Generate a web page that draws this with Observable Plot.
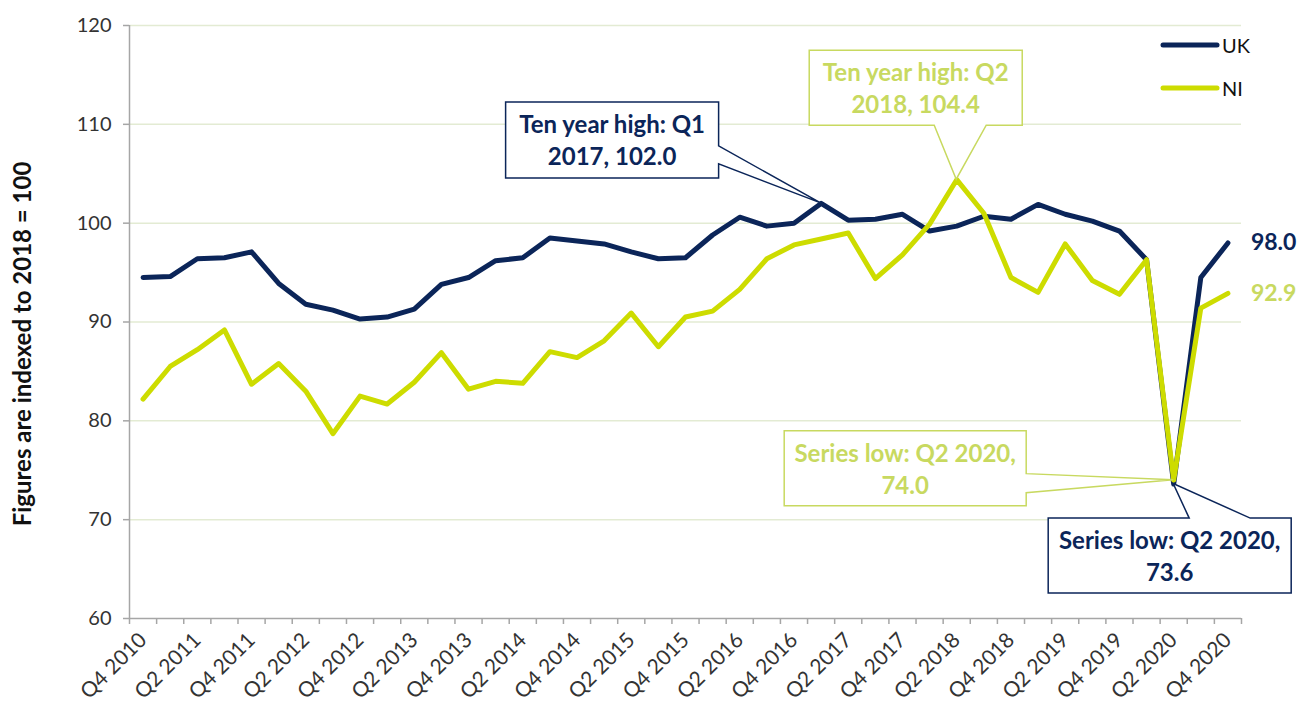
<!DOCTYPE html>
<html>
<head>
<meta charset="utf-8">
<script src="https://cdn.jsdelivr.net/npm/d3@7"></script>
<script src="https://cdn.jsdelivr.net/npm/@observablehq/plot@0.6"></script>
<style>
  html, body { margin: 0; padding: 0; background: #fff; }
  #chart { position: relative; width: 1298px; height: 709px; }
  #chart svg { font-family: Lato, "Open Sans", sans-serif; }
</style>
</head>
<body>
<div id="chart"></div>
<script>
// ---------------- data ----------------
const quarters = [
  "Q4 2010",
  "Q1 2011", "Q2 2011", "Q3 2011", "Q4 2011",
  "Q1 2012", "Q2 2012", "Q3 2012", "Q4 2012",
  "Q1 2013", "Q2 2013", "Q3 2013", "Q4 2013",
  "Q1 2014", "Q2 2014", "Q3 2014", "Q4 2014",
  "Q1 2015", "Q2 2015", "Q3 2015", "Q4 2015",
  "Q1 2016", "Q2 2016", "Q3 2016", "Q4 2016",
  "Q1 2017", "Q2 2017", "Q3 2017", "Q4 2017",
  "Q1 2018", "Q2 2018", "Q3 2018", "Q4 2018",
  "Q1 2019", "Q2 2019", "Q3 2019", "Q4 2019",
  "Q1 2020", "Q2 2020", "Q3 2020", "Q4 2020"
];
const ukValues = [
  94.5, 94.6, 96.4, 96.5, 97.1, 93.9, 91.8, 91.2, 90.3, 90.5,
  91.3, 93.8, 94.5, 96.2, 96.5, 98.5, 98.2, 97.9, 97.1, 96.4,
  96.5, 98.8, 100.6, 99.7, 100.0, 102.0, 100.3, 100.4, 100.9, 99.2,
  99.7, 100.7, 100.4, 101.9, 100.9, 100.2, 99.2, 96.3, 73.6, 94.5,
  98.0
];
const niValues = [
  82.2, 85.5, 87.2, 89.2, 83.7, 85.8, 83.0, 78.7, 82.5, 81.7,
  83.9, 86.9, 83.2, 84.0, 83.8, 87.0, 86.4, 88.1, 90.9, 87.5,
  90.5, 91.1, 93.3, 96.4, 97.8, 98.4, 99.0, 94.4, 96.8, 99.9,
  104.4, 101.0, 94.5, 93.0, 97.9, 94.2, 92.8, 96.3, 74.0, 91.4,
  92.9
];
const seriesNames = ["UK", "NI"];
const yTicks = [60, 70, 80, 90, 100, 110, 120];
const yLabel = "Figures are indexed to 2018 = 100";
const calloutSeries = ["UK", "NI", "NI", "UK"];
const calloutIndex = [25, 30, 38, 38];
const calloutText = [
  ["Ten year high: Q1", "2017, 102.0"],
  ["Ten year high: Q2", "2018, 104.4"],
  ["Series low: Q2 2020,", "74.0"],
  ["Series low: Q2 2020,", "73.6"]
];

// ---------------- styles / layout ----------------
const colors = { UK: "#0b2559", NI: "#cddc00" };
const textColors = { UK: "#0b2559", NI: "#c8d960" };
const axisGray = "#a6a6a6";
const gridColor = "#e3ebd3";
const W = 1298, H = 709;
const M = { top: 25, right: 57, bottom: 91, left: 129 };
// pixel layout of callout boxes relative to the data point
const calloutLayout = [
  { dx: -208.5, dy: -63, w: 213, h: 76, side: "right", a1: 44, a2: 62 },
  { dx: -40.5, dy: -91.5, w: 213, h: 75, side: "bottom", a1: 125, a2: 177 },
  { dx: -268, dy: -11.5, w: 242, h: 75, side: "right", a1: 43, a2: 62 },
  { dx: -3.5, dy: 72, w: 243, h: 75, side: "top", a1: 141, a2: 202 }
];
const seriesData = { UK: ukValues, NI: niValues };

const n = quarters.length;
const plot = Plot.plot({
  width: W, height: H,
  marginTop: M.top, marginRight: M.right, marginBottom: M.bottom, marginLeft: M.left,
  style: { fontFamily: "Lato, 'Open Sans', sans-serif", fontSize: "20px", color: "#333", background: "#fff", overflow: "visible" },
  x: { type: "linear", domain: [-0.5, n - 0.5] },
  y: { domain: [60, 120] },
  marks: [
    Plot.gridY(yTicks.filter(d => d > 60), { stroke: gridColor, strokeOpacity: 1, strokeWidth: 1.5 }),
    Plot.ruleX([-0.5], { stroke: axisGray, strokeWidth: 1.5 }),
    Plot.ruleY([60], { stroke: axisGray, strokeWidth: 1.5 }),
    Plot.axisY(yTicks, { tickSize: 6, tickPadding: 12, stroke: axisGray, strokeWidth: 1.5, fill: "#333", fontSize: 20, label: null }),
    Plot.axisX(d3.range(n + 1).map(i => i - 0.5), { tickSize: 6, tickFormat: () => "", stroke: axisGray, strokeWidth: 1.5, label: null }),
    Plot.axisX(d3.range(0, n, 2), { tickSize: 0, tickPadding: 18, tickRotate: -45, tickFormat: i => quarters[i], fill: "#333", fontSize: 21, label: null }),
    Plot.text([yLabel], { frameAnchor: "left", textAnchor: "middle", rotate: -90, dx: -106, dy: 22, fontWeight: "bold", fontSize: 24, fill: "#111" }),
    Plot.lineY(ukValues, { stroke: colors.UK, strokeWidth: 5, strokeLinejoin: "round", strokeLinecap: "round" }),
    Plot.lineY(niValues, { stroke: colors.NI, strokeWidth: 5, strokeLinejoin: "round", strokeLinecap: "round" }),
    Plot.text([n - 1], { x: d => d, y: d => ukValues[d], text: d => ukValues[d].toFixed(1), dx: 23, textAnchor: "start", fill: textColors.UK, fontWeight: "bold", fontSize: 23 }),
    Plot.text([n - 1], { x: d => d, y: d => niValues[d], text: d => niValues[d].toFixed(1), dx: 23, textAnchor: "start", fill: textColors.NI, fontWeight: "bold", fontSize: 23 })
  ]
});
document.getElementById("chart").appendChild(plot);

// ---------------- callouts and legend, placed through Plot's scales ----------------
const xs = plot.scale("x"), ys = plot.scale("y");
const svg = d3.select(plot);
const g = svg.append("g").attr("class", "callouts");
calloutIndex.forEach((idx, k) => {
  const s = calloutSeries[k];
  const px = xs.apply(idx), py = ys.apply(seriesData[s][idx]);
  const L = calloutLayout[k];
  const cx = px + L.dx, cy = py + L.dy;
  const x0 = cx - L.w / 2, x1 = cx + L.w / 2, y0 = cy - L.h / 2, y1 = cy + L.h / 2;
  let d;
  if (L.side === "right") {
    d = `M${x0},${y0}H${x1}V${y0 + L.a1}L${px},${py}L${x1},${y0 + L.a2}V${y1}H${x0}Z`;
  } else if (L.side === "bottom") {
    d = `M${x0},${y0}H${x1}V${y1}H${x0 + L.a2}L${px},${py}L${x0 + L.a1},${y1}H${x0}Z`;
  } else {
    d = `M${x0},${y0}H${x0 + L.a1}L${px},${py}L${x0 + L.a2},${y0}H${x1}V${y1}H${x0}Z`;
  }
  g.append("path").attr("d", d).attr("fill", "#fff").attr("stroke", textColors[s]).attr("stroke-width", 1.5).attr("stroke-linejoin", "miter");
  const lines = calloutText[k];
  lines.forEach((t, j) => {
    g.append("text")
      .attr("x", cx).attr("y", cy + (j - (lines.length - 1) / 2) * 32)
      .attr("text-anchor", "middle").attr("dominant-baseline", "central")
      .attr("font-size", 24).attr("font-weight", "bold")
      .attr("fill", textColors[s]).text(t);
  });
});

const frameRight = W - M.right, frameTop = M.top;
const lg = svg.append("g").attr("class", "legend");
seriesNames.forEach((s, k) => {
  const yy = frameTop + 20 + k * 43;
  lg.append("line").attr("x1", frameRight - 78).attr("x2", frameRight - 24).attr("y1", yy).attr("y2", yy)
    .attr("stroke", colors[s]).attr("stroke-width", 5).attr("stroke-linecap", "round");
  lg.append("text").attr("x", frameRight - 19).attr("y", yy).attr("dominant-baseline", "central")
    .attr("text-anchor", "start").attr("font-size", 20).attr("fill", "#111").text(s);
});
</script>
</body>
</html>
